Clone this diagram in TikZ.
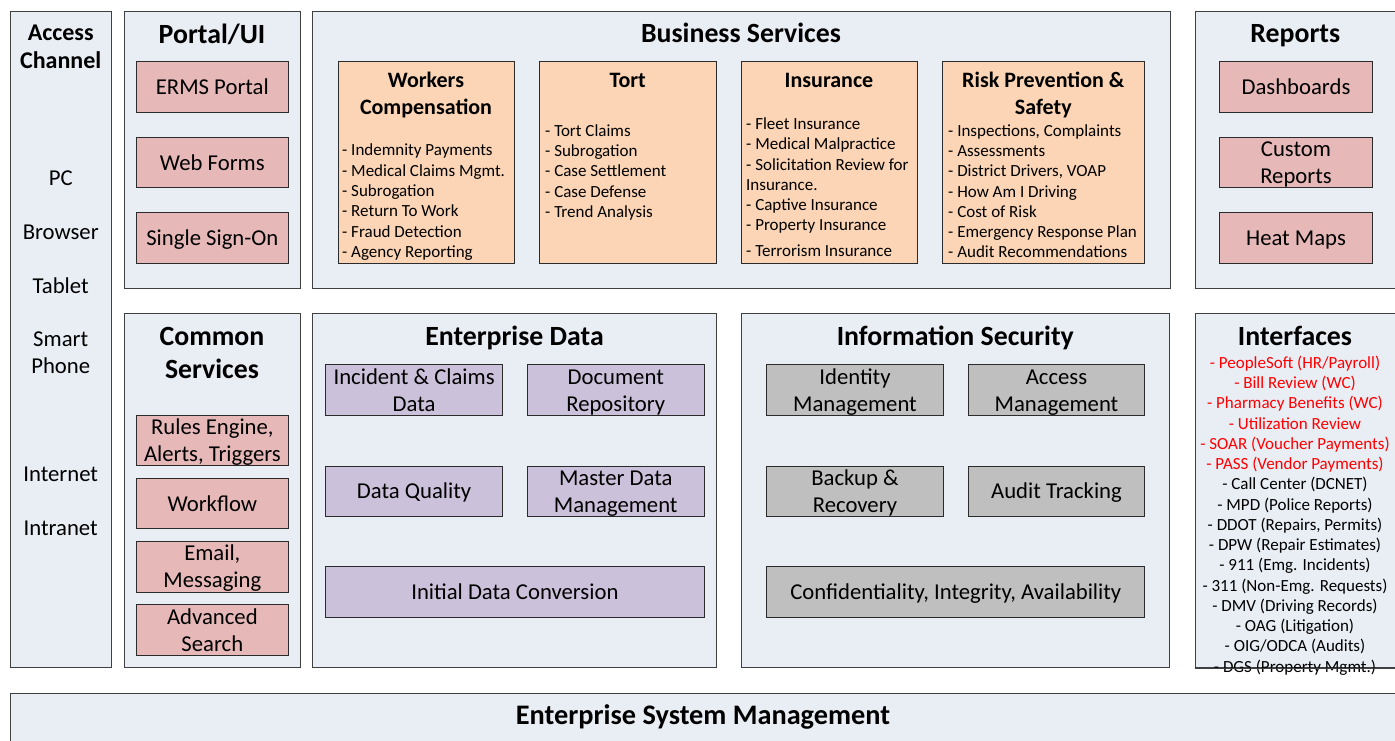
\documentclass[tikz,border=0pt]{standalone}
\usepackage{fontspec}
\setmainfont{Carlito}
\definecolor{panelfill}{HTML}{E9EDF4}
\definecolor{panelline}{HTML}{404040}
\definecolor{boxline}{HTML}{2B2B2B}
\definecolor{pinkfill}{HTML}{E6B9B8}
\definecolor{orangefill}{HTML}{FBD5B5}
\definecolor{purplefill}{HTML}{CCC1DA}
\definecolor{grayfill}{HTML}{BFBFBF}
\definecolor{redtext}{HTML}{FF0000}
\newcommand\rbox[7]{\node[#6, anchor=north west, minimum width={(#4)-(#2)}, minimum height={(#5)-(#3)}] (#1) at (#2,#3) {#7};}
\newcommand\tline[5]{\node[anchor=base, font=#4, inner sep=0pt] (#1) at (#2,#3) {#5};}
\newcommand\vs{\rule[-4pt]{0pt}{23pt}}
\begin{document}
\begin{tikzpicture}[x=1pt,y=-1pt,
  panel/.style={draw=panelline, fill=panelfill, line width=1pt, inner sep=0pt},
  pinkbox/.style={draw=boxline, fill=pinkfill, line width=1pt, inner sep=0pt, align=center, font=\ibig},
  orangebox/.style={draw=boxline, fill=orangefill, line width=1pt, inner sep=0pt},
  purplebox/.style={draw=boxline, fill=purplefill, line width=1pt, inner sep=0pt, align=center, font=\ibig},
  graybox/.style={draw=boxline, fill=grayfill, line width=1pt, inner sep=0pt, align=center, font=\ibig},
  listline/.style={anchor=base west, inner sep=0pt, font=\ismall},
  ifline/.style={anchor=base, inner sep=0pt, font=\ismall}
]
\newcommand\ttl{\fontsize{27.8}{33}\selectfont\bfseries}
\newcommand\esmf{\fontsize{28.3}{33}\selectfont\bfseries}
\newcommand\acc{\fontsize{24}{29}\selectfont\bfseries}
\newcommand\sub{\fontsize{22}{27}\selectfont\bfseries}
\newcommand\ibig{\fontsize{22.7}{27}\selectfont}
\newcommand\ismall{\fontsize{17}{20.3}\selectfont}
\useasboundingbox (0,0) rectangle (1395,740);
\clip (0,0) rectangle (1395,740);
\fill[white] (0,0) rectangle (1395,740);

% ---------- panels ----------
\rbox{access}{10.3}{10.7}{111.3}{667.3}{panel}{}
\rbox{portal}{123.7}{10.7}{300.3}{288.3}{panel}{}
\rbox{business}{312.3}{10.7}{1169.5}{288.3}{panel}{}
\rbox{reports}{1194.7}{10.7}{1420}{288.3}{panel}{}
\rbox{common}{123.7}{313.3}{300.3}{667.3}{panel}{}
\rbox{edata}{312.3}{313.3}{716}{667.3}{panel}{}
\rbox{infosec}{740.7}{313.3}{1169.3}{667.3}{panel}{}
\rbox{interfaces}{1194.7}{313.3}{1420}{667}{panel}{}
\rbox{esm}{10.3}{692.7}{1420}{760}{panel}{}

% ---------- access channel ----------
\tline{accT1}{60.7}{40}{\acc}{Access}
\tline{accT2}{60.7}{68.7}{\acc}{Channel}
\tline{acc1}{60.7}{185}{\ibig}{PC}
\tline{acc2}{60.7}{239}{\ibig}{Browser}
\tline{acc3}{60.7}{293}{\ibig}{Tablet}
\tline{acc4}{60.7}{346}{\ibig}{Smart}
\tline{acc5}{60.7}{373}{\ibig}{Phone}
\tline{acc6}{60.7}{481}{\ibig}{Internet}
\tline{acc7}{60.7}{535}{\ibig}{Intranet}

% ---------- portal ----------
\tline{portalT}{212}{43}{\ttl}{Portal/UI}
\rbox{erms}{136}{61}{287.7}{111.7}{pinkbox}{ERMS Portal\vs}
\rbox{webforms}{136}{136.7}{287.7}{187.3}{pinkbox}{Web Forms\vs}
\rbox{sso}{136}{212.3}{287.7}{263.3}{pinkbox}{Single Sign-On\vs}

% ---------- business services ----------
\tline{busT}{741}{42}{\ttl}{Business Services}
\rbox{wc}{337.7}{61}{514.3}{263.3}{orangebox}{}
\rbox{tort}{539.3}{61}{716}{263.3}{orangebox}{}
\rbox{ins}{741}{61}{917.3}{263.3}{orangebox}{}
\rbox{risk}{942.3}{61}{1144.3}{263.3}{orangebox}{}
\tline{wcT1}{426}{87}{\sub}{Workers}
\tline{wcT2}{426}{114.3}{\sub}{Compensation}
\tline{tortT}{627.7}{87}{\sub}{Tort}
\tline{insT}{829}{87}{\sub}{Insurance}
\tline{riskT1}{1043.3}{87}{\sub}{Risk Prevention \&}
\tline{riskT2}{1043.3}{114.3}{\sub}{Safety}
\foreach \t [count=\i] in {- Indemnity Payments, - Medical Claims Mgmt., - Subrogation, - Return To Work, - Fraud Detection, - Agency Reporting}
  \node[listline] (wc\i) at (342, {155.8+(\i-1)*20.3}) {\t};
\foreach \t [count=\i] in {- Tort Claims, - Subrogation, - Case Settlement, - Case Defense, - Trend Analysis}
  \node[listline] (tort\i) at (545, {136.5+(\i-1)*20.2}) {\t};
\foreach \t/\yy [count=\i] in {- Fleet Insurance/129.5, - Medical Malpractice/149.8, - Solicitation Review for/170.5, Insurance./190.5, - Captive Insurance/210.5, - Property Insurance/230.5, - Terrorism Insurance/256.5}
  \node[listline] (ins\i) at (746, \yy) {\t};
\foreach \t [count=\i] in {{- Inspections, Complaints}, - Assessments, {- District Drivers, VOAP}, - How Am I Driving, - Cost of Risk, - Emergency Response Plan, - Audit Recommendations}
  \node[listline] (risk\i) at (948, {136.5+(\i-1)*20.2}) {\t};

% ---------- reports ----------
\tline{repT}{1295.3}{42}{\ttl}{Reports}
\rbox{dash}{1219.3}{61}{1371.7}{111.7}{pinkbox}{Dashboards\vs}
\rbox{custom}{1219.3}{136.7}{1371.7}{187.3}{pinkbox}{Custom\vs\\Reports\vs}
\rbox{heat}{1219.3}{212.3}{1371.7}{263.3}{pinkbox}{Heat Maps\vs}

% ---------- common services ----------
\tline{comT1}{212}{345.7}{\ttl}{Common}
\tline{comT2}{212}{378.3}{\ttl}{Services}
\rbox{rules}{136}{414.7}{287.7}{465}{pinkbox}{Rules Engine,\vs\\Alerts, Triggers\vs}
\rbox{workflow}{136}{478}{287.7}{528.3}{pinkbox}{Workflow\vs}
\rbox{email}{136}{541}{287.7}{591.7}{pinkbox}{Email,\vs\\Messaging\vs}
\rbox{search}{136}{604.3}{287.7}{655}{pinkbox}{Advanced\vs\\Search\vs}

% ---------- enterprise data ----------
\tline{edT}{514.5}{345}{\ttl}{Enterprise Data}
\rbox{incident}{325.3}{364.3}{502}{415}{purplebox}{Incident \& Claims\vs\\Data\vs}
\rbox{docrepo}{527}{364.3}{703.5}{415}{purplebox}{Document\vs\\Repository\vs}
\rbox{dq}{325.3}{465.7}{502}{516}{purplebox}{Data Quality\vs}
\rbox{mdm}{527}{465.7}{703.5}{516}{purplebox}{Master Data\vs\\Management\vs}
\rbox{idc}{325.3}{566.3}{703.5}{617}{purplebox}{Initial Data Conversion\vs}

% ---------- information security ----------
\tline{isT}{955.3}{345}{\ttl}{Information Security}
\rbox{idm}{766.3}{364.3}{942.7}{415}{graybox}{Identity\vs\\Management\vs}
\rbox{acm}{967.7}{364.3}{1144.3}{415}{graybox}{Access\vs\\Management\vs}
\rbox{backup}{766.3}{465.7}{942.7}{516}{graybox}{Backup \&\vs\\Recovery\vs}
\rbox{audit}{967.7}{465.7}{1144.3}{516}{graybox}{Audit Tracking\vs}
\rbox{cia}{766.3}{566.3}{1144.3}{617}{graybox}{Confidentiality, Integrity, Availability\vs}

% ---------- interfaces ----------
\tline{ifT}{1295}{345.7}{\ttl}{Interfaces}
\foreach \t [count=\i] in {- PeopleSoft (HR/Payroll), - Bill Review (WC), - Pharmacy Benefits (WC), - Utilization Review, - SOAR (Voucher Payments), - PASS (Vendor Payments)}
  \node[ifline, text=redtext] (ifr\i) at (1295, {368.2+(\i-1)*20.27}) {\t};
\foreach \t [count=\i] in {- Call Center (DCNET), - MPD (Police Reports), {- DDOT (Repairs, Permits)}, - DPW (Repair Estimates), - 911 (Emg. Incidents), - 311 (Non-Emg. Requests), - DMV (Driving Records), - OAG (Litigation), - OIG/ODCA (Audits), - DGS (Property Mgmt.)}
  \node[ifline] (ifb\i) at (1295, {368.2+(\i+5)*20.27}) {\t};
\draw[panelline, line width=1pt] (interfaces.south west) -- (interfaces.south east);

% ---------- enterprise system management ----------
\tline{esmT}{703}{724.5}{\esmf}{Enterprise System Management}
\end{tikzpicture}
\end{document}
